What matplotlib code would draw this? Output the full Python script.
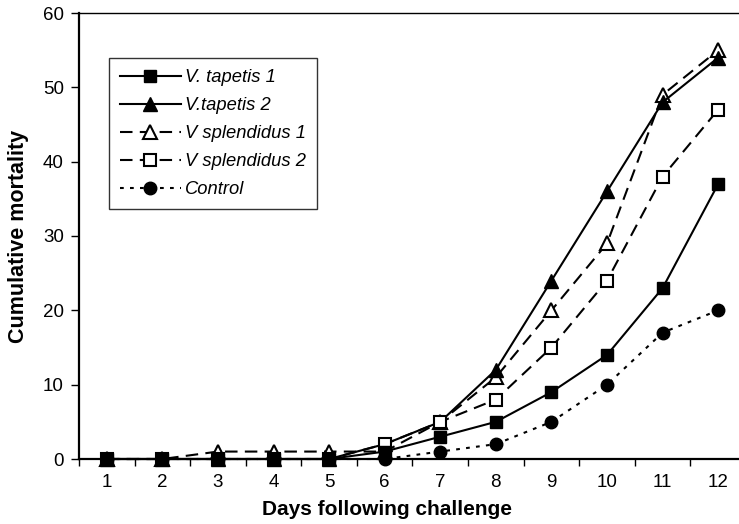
import numpy as np
import matplotlib
matplotlib.use("Agg")
import matplotlib.pyplot as plt

plt.rcParams['font.family'] = ['Liberation Sans', 'DejaVu Sans']

days = list(range(1, 13))
tapetis_1 = [0, 0, 0, 0, 0, 1, 3, 5, 9, 14, 23, 37]
tapetis_2 = [0, 0, 0, 0, 0, 2, 5, 12, 24, 36, 48, 54]
splendidus_1 = [0, 0, 1, 1, 1, 1, 5, 11, 20, 29, 49, 55]
splendidus_2 = [0, 0, 0, 0, 0, 2, 5, 8, 15, 24, 38, 47]
control = [0, 0, 0, 0, 0, 0, 1, 2, 5, 10, 17, 20]

labels = ["V. tapetis 1", "V.tapetis 2", "V splendidus 1", "V splendidus 2", "Control"]

W, H = 739, 524
fig = plt.figure(figsize=(W / 100, H / 100), dpi=100)
# axes right edge runs past the canvas (cropped like the original)
ax = fig.add_axes([79 / W, 1 - 459 / H, (746 - 79) / W, (459 - 13) / H])

dash = (0, (6, 3.5))
dot = (0, (1.8, 3))
lw = 1.5
ms = 9

lines = []
lines.append(ax.plot(days, tapetis_1, color='black', lw=lw, marker='s', ms=ms,
                     label=labels[0], zorder=9, clip_on=False)[0])
lines.append(ax.plot(days, tapetis_2, color='black', lw=lw, marker='^', ms=ms + 0.5,
                     label=labels[1], zorder=7, clip_on=False)[0])
lines.append(ax.plot(days, splendidus_1, color='black', lw=lw, ls=dash, marker='^',
                     ms=ms + 0.5, mfc='white', mec='black', mew=1.5,
                     label=labels[2], zorder=6, clip_on=False)[0])
lines.append(ax.plot(days, splendidus_2, color='black', lw=lw, ls=dash, marker='s',
                     ms=ms - 0.5, mfc='white', mec='black', mew=1.5,
                     label=labels[3], zorder=8, clip_on=False)[0])
lines.append(ax.plot(days, control, color='black', lw=lw, ls=dot, marker='o', ms=ms,
                     label=labels[4], zorder=5, clip_on=False)[0])

ax.set_xlim(0.5, 12.5)
ax.set_ylim(0, 60)
ax.set_yticks(np.arange(0, 61, 10))
ax.set_xticks(days)
ax.set_xticks(np.arange(0.5, 12.6, 1), minor=True)
ax.tick_params(axis='x', which='major', length=0, labelsize=13.5, pad=11)
ax.tick_params(axis='x', which='minor', length=5, width=1, direction='out')
ax.tick_params(axis='y', length=6, width=1, direction='out', labelsize=13.5, pad=5)

for s in ax.spines.values():
    s.set_linewidth(1.0)
ax.spines['left'].set_linewidth(1.6)
ax.spines['bottom'].set_linewidth(1.6)

ax.set_xlabel("Days following challenge", fontsize=15, fontweight='bold')
ax.set_ylabel("Cumulative mortality", fontsize=15.5, fontweight='bold', labelpad=10)
ax.xaxis.set_label_coords(0.462, -0.092)

leg = ax.legend(handles=lines, loc='upper left',
                bbox_to_anchor=((109 - 79) / (746 - 79), (459 - 58) / (459 - 13)),
                frameon=True, fancybox=False, edgecolor='black',
                prop={'style': 'italic', 'size': 13.2}, handlelength=3.3,
                handletextpad=0.25, labelspacing=0.6, borderpad=0.6,
                borderaxespad=0, numpoints=1)
leg.get_frame().set_linewidth(1.0)
leg.set_zorder(20)

fig.savefig("out.png", dpi=100)
